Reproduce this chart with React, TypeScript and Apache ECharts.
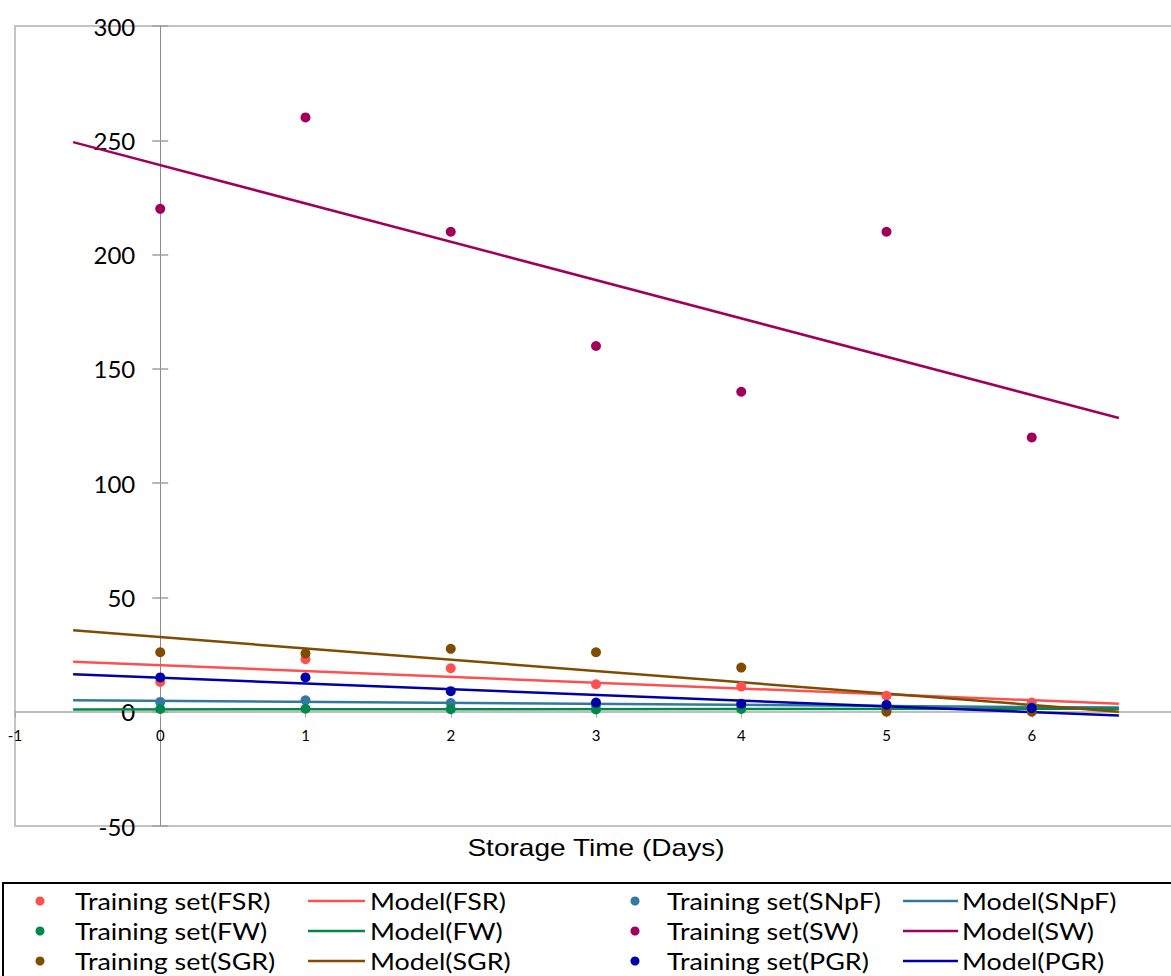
import React, { useEffect, useRef } from "react";
import * as echarts from "echarts";

const days = [0, 1, 2, 3, 4, 5, 6];
const fsr = [13, 23, 19, 12, 11, 7, 4];
const snpf = [4.3, 5, 3.8, 3, 2.7, 2.5, 2];
const fw = [1.2, 1.3, 1.1, 1.0, 1.2, 1.1, 1.0];
const sw = [220, 260, 210, 160, 140, 210, 120];
const sgr = [26, 25.5, 27.5, 26, 19.3, 0, 0];
const pgr = [15, 15, 9, 4, 3.5, 3, 1.6];

const modelX = [-0.6, 6.6];
const modelFsr = [21.9, 3.5];
const modelSnpf = [5.0, 1.8];
const modelFw = [1.0, 1.3];
const modelSw = [249.2, 128.5];
const modelSgr = [35.6, 0];
const modelPgr = [16.4, -1.7];

const yTicks = { min: -50, max: 300, interval: 50 };
const xTicks = { min: -1, max: 7, interval: 1 };

const groups = [
  { key: "FSR", pts: fsr, model: modelFsr, color: "#FF5050" },
  { key: "SNpF", pts: snpf, model: modelSnpf, color: "#31799E" },
  { key: "FW", pts: fw, model: modelFw, color: "#00894A" },
  { key: "SW", pts: sw, model: modelSw, color: "#A0005C" },
  { key: "SGR", pts: sgr, model: modelSgr, color: "#7F4C00" },
  { key: "PGR", pts: pgr, model: modelPgr, color: "#0000A8" },
];

const legendFont = "Lato, 'Open Sans', sans-serif";

// grid geometry
const GRID_LEFT = 15;
const GRID_TOP = 26;
const GRID_W = 1162;
const GRID_H = 800;

export default function App() {
  const ref = useRef<HTMLDivElement>(null);
  useEffect(() => {
    if (!ref.current) return;
    const chart = echarts.init(ref.current, undefined, { renderer: "svg" });

    const series: any[] = [];
    groups.forEach((g) => {
      series.push({
        name: `Training set(${g.key})`,
        type: "scatter",
        symbol: "circle",
        symbolSize: 10,
        itemStyle: { color: g.color, opacity: 1 },
        data: days.map((d, i) => [d, g.pts[i]]),
        z: 3,
      });
      series.push({
        name: `Model(${g.key})`,
        type: "line",
        symbol: "none",
        lineStyle: { color: g.color, width: 2.5 },
        data: modelX.map((x, i) => [x, g.model[i]]),
        z: 2,
      });
    });

    // axis offsets so the axes cross at (0, 0)
    const xOffset = -((0 - xTicks.min) / (xTicks.max - xTicks.min)) * GRID_W;
    const yOffset = -((0 - yTicks.min) / (yTicks.max - yTicks.min)) * GRID_H;

    const legendOrder = [
      ["FSR", "SNpF"],
      ["FW", "SW"],
      ["SGR", "PGR"],
    ];
    const rowsY = [901, 931, 961];
    const graphics: any[] = [
      {
        type: "rect",
        shape: { x: 3, y: 883, width: 1300, height: 200 },
        style: { fill: "none", stroke: "#000", lineWidth: 2 },
        silent: true,
      },
      {
        type: "text",
        x: 596,
        y: 848,
        scaleX: 1.22,
        style: {
          text: "Storage Time (Days)",
          font: "23px 'Liberation Sans', Arial, sans-serif",
          fill: "#000",
          align: "center",
          verticalAlign: "middle",
        },
      },
    ];
    legendOrder.forEach((row, r) => {
      const y = rowsY[r];
      row.forEach((key, c) => {
        const g = groups.find((gg) => gg.key === key)!;
        const dotX = c === 0 ? 40 : 635;
        const txtX = c === 0 ? 75 : 667;
        const lineX1 = c === 0 ? 308 : 903;
        const lineX2 = c === 0 ? 365 : 958;
        const modelTxtX = c === 0 ? 370 : 962;
        graphics.push({
          type: "circle",
          shape: { cx: dotX, cy: y, r: 4.5 },
          style: { fill: g.color },
        });
        graphics.push({
          type: "text",
          x: txtX,
          y,
          scaleX: 1.12,
          style: {
            text: `Training set(${key})`,
            font: `24px ${legendFont}`,
            fill: "#000",
            verticalAlign: "middle",
          },
        });
        graphics.push({
          type: "line",
          shape: { x1: lineX1, y1: y, x2: lineX2, y2: y },
          style: { stroke: g.color, lineWidth: 2.5 },
        });
        graphics.push({
          type: "text",
          x: modelTxtX,
          y,
          scaleX: 1.12,
          style: {
            text: `Model(${key})`,
            font: `24px ${legendFont}`,
            fill: "#000",
            verticalAlign: "middle",
          },
        });
      });
    });

    chart.setOption({
      animation: false,
      backgroundColor: "#fff",
      grid: {
        left: GRID_LEFT,
        top: GRID_TOP,
        width: GRID_W,
        height: GRID_H,
        containLabel: false,
        outerBoundsMode: "none",
        show: true,
        borderColor: "#C4C4C4",
        borderWidth: 2,
        backgroundColor: "transparent",
      },
      xAxis: {
        type: "value",
        min: xTicks.min,
        max: xTicks.max,
        interval: xTicks.interval,
        position: "bottom",
        offset: yOffset,
        splitLine: { show: false },
        axisLine: { onZero: false, lineStyle: { color: "#A8A8A8", width: 1.5 } },
        axisTick: { show: true, length: 6, lineStyle: { color: "#A8A8A8" } },
        axisLabel: {
          margin: 16,
          fontSize: 15,
          color: "#000",
          fontFamily: legendFont,
          formatter: (v: number) => (v >= 7 ? "" : String(v)),
        },
      },
      yAxis: [
        {
          type: "value",
          min: yTicks.min,
          max: yTicks.max,
          interval: yTicks.interval,
          position: "left",
          offset: xOffset,
          splitLine: { show: false },
          axisLine: { onZero: false, lineStyle: { color: "#8C8C8C", width: 1 } },
          axisTick: { show: true, length: 8, lineStyle: { color: "#A0A0A0", width: 1.5 } },
          axisLabel: { margin: 25, fontSize: 24, color: "#000", fontFamily: legendFont },
        },
        {
          type: "value",
          min: yTicks.min,
          max: yTicks.max,
          interval: yTicks.interval,
          position: "left",
          offset: xOffset,
          splitLine: { show: false },
          axisLine: { show: true, onZero: false, lineStyle: { color: "#8C8C8C", width: 1 } },
          axisTick: { show: true, inside: true, length: 8, lineStyle: { color: "#A0A0A0", width: 1.5 } },
          axisLabel: { show: false },
        },
      ],
      series,
      graphic: graphics,
    });
    return () => chart.dispose();
  }, []);

  return (
    <div
      style={{
        position: "fixed",
        left: 0,
        top: 0,
        width: 1171,
        height: 976,
        overflow: "hidden",
        background: "#fff",
      }}
    >
      <div ref={ref} style={{ width: 1200, height: 976 }} />
    </div>
  );
}
